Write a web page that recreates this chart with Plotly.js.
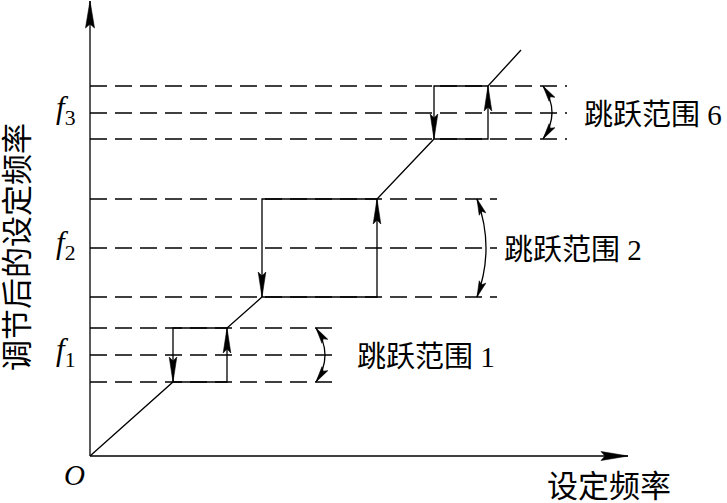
<!DOCTYPE html>
<html><head><meta charset="utf-8">
<script src="https://cdn.plot.ly/plotly-3.0.1.min.js"></script>
<style>html,body{margin:0;padding:0;background:#fff}</style>
</head><body><div id="chart" style="width:727px;height:503px"></div>
<script>
// ---- data (set frequency on x, adjusted set frequency on y; arbitrary units) ----
const bandNames  = ['跳跃范围 1', '跳跃范围 2', '跳跃范围 6'];
const centerSubs = ['1', '2', '3'];
const bandCenter = [101, 208, 343];   // f1, f2, f3
const bandLow    = [74, 159, 317];
const bandHigh   = [128, 257, 370];
const dropAt     = [83, 172, 344];    // set frequency where output falls back (down arrow)
const riseAt     = [137, 287, 398];   // set frequency where output jumps up (up arrow)
const rampEnd    = [431, 406];
const axisMax    = [538, 455];
const dashEnd    = [248, 407, 477];
const xTitle = '设定频率';
const yTitle = '调节后的设定频率';
const originLabel = 'O';

// ---- style / placement ----
const ink = '#000';
const lw = 1.3;
const curveX = [226, 387, 453];
const curveBulge = 9;
const labelX = [265, 412, 492];
const serifCJK = '"Liberation Serif", "Noto Sans CJK SC", serif';

// dashed reference lines
const dx = [], dy = [];
for (let i = 0; i < 3; i++) {
  [bandHigh[i], bandCenter[i], bandLow[i]].forEach(v => { dx.push(0, dashEnd[i], null); dy.push(v, v, null); });
}

// main characteristic (increasing path)
const mx = [0], my = [0];
for (let i = 0; i < 3; i++) {
  mx.push(dropAt[i], riseAt[i], riseAt[i]);
  my.push(bandLow[i], bandLow[i], bandHigh[i]);
}
mx.push(rampEnd[0]); my.push(rampEnd[1]);
// decreasing branches (upper edge + drop)
for (let i = 0; i < 3; i++) {
  mx.push(null, riseAt[i], dropAt[i], dropAt[i]);
  my.push(null, bandHigh[i], bandHigh[i], bandLow[i]);
}

const traces = [
  {x: dx, y: dy, mode: 'lines', line: {color: ink, width: lw, dash: '17px,8px'}, hoverinfo: 'skip'},
  {x: mx, y: my, mode: 'lines', line: {color: ink, width: lw}, hoverinfo: 'skip'},
  {x: [0, axisMax[0]], y: [0, 0], mode: 'lines', line: {color: ink, width: lw}, hoverinfo: 'skip'},
  {x: [0, 0], y: [0, axisMax[1]], mode: 'lines', line: {color: ink, width: lw}, hoverinfo: 'skip'}
];

function head(tx, ty, ux, uy, L, w, n) {
  const m = Math.hypot(ux, uy); ux /= m; uy /= m;
  const px = -uy, py = ux;
  const bx = tx - L * ux, by = ty - L * uy;
  const nx = tx - (L - n) * ux, ny = ty - (L - n) * uy;
  return {type: 'path', xref: 'x', yref: 'y',
    path: `M${tx},${ty} L${bx + w * px},${by + w * py} L${nx},${ny} L${bx - w * px},${by - w * py} Z`,
    fillcolor: ink, line: {color: ink, width: 0.6}};
}

const shapes = [];
shapes.push(head(axisMax[0], 0, 1, 0, 27, 4.5, 4));
shapes.push(head(0, axisMax[1], 0, 1, 27, 4.5, 4));
for (let i = 0; i < 3; i++) {
  shapes.push(head(dropAt[i], bandLow[i], 0, -1, 25, 3.8, 4));
  shapes.push(head(riseAt[i], bandHigh[i], 0, 1, 25, 3.8, 4));
  const cx = curveX[i] + 2 * curveBulge, cy = (bandHigh[i] + bandLow[i]) / 2;
  shapes.push({type: 'path', xref: 'x', yref: 'y',
    path: `M${curveX[i]},${bandHigh[i]} Q${cx},${cy} ${curveX[i]},${bandLow[i]}`,
    line: {color: ink, width: lw}});
  shapes.push(head(curveX[i], bandHigh[i], curveX[i] - cx, bandHigh[i] - cy, 16, 3.5, 3));
  shapes.push(head(curveX[i], bandLow[i], curveX[i] - cx, bandLow[i] - cy, 16, 3.5, 3));
}

const annotations = [];
for (let i = 0; i < 3; i++) {
  annotations.push({x: -25, y: bandCenter[i], xref: 'x', yref: 'y', showarrow: false,
    text: `<i>f</i><sub>${centerSubs[i]}</sub>`, xanchor: 'center', yanchor: 'middle', yshift: 3,
    font: {family: serifCJK, size: 31, color: ink}});
  annotations.push({x: labelX[i], y: bandCenter[i], xref: 'x', yref: 'y', showarrow: false,
    text: bandNames[i], xanchor: 'left', yanchor: 'middle', yshift: -2,
    font: {family: serifCJK, size: 29, color: ink}});
}
annotations.push({x: -73, y: 209, xref: 'x', yref: 'y', showarrow: false, text: yTitle,
  textangle: -90, xanchor: 'center', yanchor: 'middle', font: {family: serifCJK, size: 31, color: ink}});
annotations.push({x: 519, y: -30, xref: 'x', yref: 'y', showarrow: false, text: xTitle,
  xanchor: 'center', yanchor: 'middle', font: {family: serifCJK, size: 31, color: ink}});
annotations.push({x: -16, y: -19, xref: 'x', yref: 'y', showarrow: false, text: `<i>${originLabel}</i>`,
  xanchor: 'center', yanchor: 'middle', font: {family: serifCJK, size: 29, color: ink}});

const layout = {
  width: 727, height: 503, margin: {l: 0, r: 0, t: 0, b: 0},
  paper_bgcolor: '#fff', plot_bgcolor: '#fff', showlegend: false,
  xaxis: {range: [-90, 637], visible: false, fixedrange: true},
  yaxis: {range: [-47, 456], visible: false, fixedrange: true},
  shapes, annotations
};
Plotly.newPlot('chart', traces, layout, {staticPlot: true, displayModeBar: false});
</script></body></html>
